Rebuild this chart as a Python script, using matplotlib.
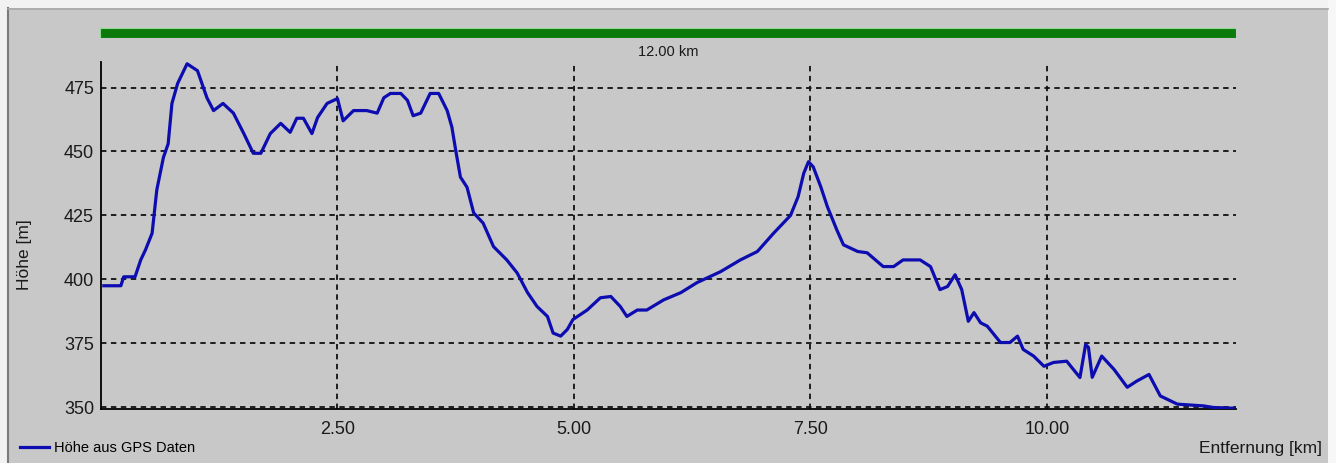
import matplotlib.pyplot as plt
from matplotlib.patches import Rectangle

plt.rcParams['font.family'] = ['Liberation Sans', 'DejaVu Sans']

# distance [km] and elevation [m]
dist_km = [0.03, 0.21, 0.24, 0.36, 0.42, 0.47, 0.54, 0.59, 0.66, 0.71, 0.75, 0.81, 0.91,
           1.02, 1.12, 1.19, 1.29, 1.40, 1.51, 1.61, 1.69, 1.79, 1.90, 2.00, 2.07, 2.14,
           2.23, 2.29, 2.39, 2.50, 2.56, 2.67, 2.81, 2.92, 2.99, 3.06, 3.17, 3.24, 3.30,
           3.38, 3.48, 3.57, 3.66, 3.71, 3.75, 3.80, 3.87, 3.94, 4.04, 4.15, 4.29, 4.40,
           4.51, 4.61, 4.72, 4.78, 4.86, 4.93, 4.99, 5.14, 5.28, 5.39, 5.49, 5.56, 5.67,
           5.77, 5.95, 6.13, 6.30, 6.55, 6.76, 6.94, 7.11, 7.29, 7.37, 7.43, 7.48, 7.53,
           7.61, 7.68, 7.78, 7.85, 8.00, 8.10, 8.27, 8.38, 8.48, 8.66, 8.77, 8.87, 8.95,
           9.03, 9.10, 9.17, 9.23, 9.30, 9.37, 9.51, 9.61, 9.69, 9.75, 9.86, 9.97, 10.07,
           10.21, 10.35, 10.41, 10.44, 10.48, 10.58, 10.71, 10.85, 10.95, 11.08, 11.20,
           11.38, 11.66, 11.76, 11.97]
hoehe_m = [397.5, 397.5, 401, 401, 407.6, 411.5, 418, 435, 447.7, 453, 468.8, 476.6, 484.3,
           481.6, 471, 466, 468.8, 465, 457, 449.3, 449.3, 457, 461, 457.5, 463, 463,
           457, 463.3, 468.8, 470.7, 462, 466, 466, 465, 471, 472.7, 472.7, 470, 464,
           465, 472.7, 472.7, 466, 459.5, 450.5, 440, 436, 426, 422, 412.8, 407.6, 402.5,
           394.8, 389.4, 385.5, 379, 377.8, 380.4, 384.3, 388, 392.8, 393.3, 389.4, 385.5, 388,
           388, 392, 394.8, 398.7, 403, 407.6, 410.9, 418, 425, 432.3, 441.5, 446, 444,
           436.2, 428.4, 419.3, 413.5, 410.9, 410.4, 405, 405, 407.6, 407.6, 405, 396, 397.2,
           401.8, 396, 383.6, 387, 383, 381.7, 375.3, 375.3, 377.8, 372.6, 370, 366, 367.5,
           368, 361.6, 374.5, 373.4, 361.7, 370, 364.8, 357.8, 360.2, 362.8, 354.4,
           351.2, 350.5, 349.9, 349.6]

x_ticks = [2.5, 5.0, 7.5, 10.0]
y_ticks = [350, 375, 400, 425, 450, 475]
total_km = 12.0

bg = '#c8c8c8'
fig = plt.figure(figsize=(13.36, 4.63), dpi=100, facecolor=bg)

# window frame
fig.patches.append(Rectangle((0, 1 - 8 / 463), 1, 8 / 463, transform=fig.transFigure,
                             facecolor='#f2f2f2', edgecolor='none', zorder=0))
fig.patches.append(Rectangle((1328 / 1336, 0), 8 / 1336, 1, transform=fig.transFigure,
                             facecolor='#f7f7f7', edgecolor='none', zorder=0))
fig.patches.append(Rectangle((0, 0), 7 / 1336, 1, transform=fig.transFigure,
                             facecolor='#f2f2f2', edgecolor='none', zorder=0))
fig.add_artist(plt.Line2D([7.5 / 1336, 7.5 / 1336], [0, 1 - 8 / 463], color='#7a7a7a', lw=1.5))
fig.add_artist(plt.Line2D([7.5 / 1336, 1328 / 1336], [1 - 8.5 / 463, 1 - 8.5 / 463],
                          color='#a8a8a8', lw=1.2))

ax = fig.add_axes([101 / 1336, 1 - 409 / 463, 1135 / 1336, 347 / 463])
ax.set_facecolor(bg)
ax.plot(dist_km, hoehe_m, color='#0c0cb0', lw=2.3, label='Höhe aus GPS Daten', zorder=3)

ax.set_xlim(0, total_km)
ax.set_ylim(349.3, 485)
ax.set_xticks(x_ticks)
ax.set_xticklabels([f'{v:.2f}' for v in x_ticks])
ax.set_yticks(y_ticks)
ax.tick_params(length=0, labelsize=13, colors='#1a1a1a')
ax.tick_params(axis='x', pad=9)
ax.tick_params(axis='y', pad=5)
ax.grid(True, color='#111111', ls=(0, (3, 2.5)), lw=1.3, zorder=1)
for s in ['top', 'right']:
    ax.spines[s].set_visible(False)
for s in ['left', 'bottom']:
    ax.spines[s].set_linewidth(1.3)

# distance bar on top
bar_ax = fig.add_axes([100 / 1336, 1 - 37.5 / 463, 1136 / 1336, 9.5 / 463])
bar_ax.barh([0], [total_km], height=1, color='#0b7a0b', edgecolor='#8fd88f', lw=0.8)
bar_ax.set_xlim(0, total_km)
bar_ax.set_ylim(-0.5, 0.5)
bar_ax.axis('off')
fig.text(668 / 1336, 1 - 52 / 463, f'{total_km:.2f} km', ha='center', va='center',
         fontsize=10.5, color='#1a1a1a')

fig.text(25 / 1336, 1 - 255 / 463, 'Höhe [m]', rotation=90, ha='center', va='center',
         fontsize=12.5, color='#1a1a1a')
fig.text(1322 / 1336, 1 - 448 / 463, 'Entfernung [km]', ha='right', va='center',
         fontsize=12.5, color='#1a1a1a')

fig.legend(loc='center left', bbox_to_anchor=(20 / 1336, 1 - 448 / 463), frameon=False,
           fontsize=10.5, handlelength=2.0, handletextpad=0.3, borderaxespad=0,
           borderpad=0)

fig.savefig('out.png', dpi=100, facecolor=fig.get_facecolor())
